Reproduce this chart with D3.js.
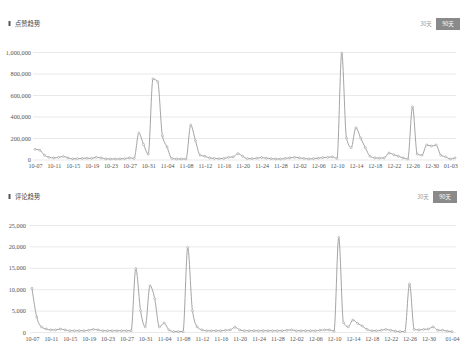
<!DOCTYPE html>
<html>
<head>
<meta charset="utf-8">
<script src="https://cdn.jsdelivr.net/npm/d3@7"></script>
<style>
  html, body { margin: 0; padding: 0; background: #fff; }
  svg { display: block; }
</style>
</head>
<body>
<div id="chart_id"></div>
<script>
// --- --- --- Data --- --- ---

// 90 days, 10-07 .. 01-04
const dates = d3.timeDay.range(new Date(2023, 9, 7), new Date(2024, 0, 5)).map(d3.timeFormat("%m-%d"));

// likes per day (点赞)
const likes = [
  95000, 87000, 40000, 20000, 15000, 20000, 28000, 15000, 6000, 8000,
  10000, 12000, 10000, 20000, 15000, 6000, 5000, 5000, 6000, 8000,
  15000, 10000, 245000, 140000, 50000, 750000, 725000, 220000, 115000, 10000,
  5000, 5000, 5000, 320000, 175000, 40000, 30000, 15000, 10000, 8000,
  10000, 20000, 25000, 55000, 30000, 8000, 8000, 12000, 18000, 12000,
  8000, 5000, 5000, 10000, 15000, 20000, 15000, 10000, 5000, 8000,
  12000, 18000, 20000, 25000, 10000, 990000, 200000, 110000, 295000, 200000,
  110000, 30000, 15000, 12000, 15000, 60000, 45000, 30000, 15000, 5000,
  490000, 50000, 40000, 135000, 125000, 135000, 40000, 25000, 5000, 15000
];

// comments per day (评论)
const comments = [
  10200, 3500, 1200, 700, 500, 500, 700, 500, 300, 300,
  300, 300, 400, 600, 500, 300, 300, 300, 300, 300,
  300, 300, 14800, 5000, 1200, 10800, 7800, 1200, 2100, 500,
  100, 100, 100, 19700, 5000, 1200, 500, 300, 300, 300,
  300, 400, 500, 1100, 500, 300, 300, 300, 300, 300,
  300, 300, 300, 300, 400, 500, 300, 300, 300, 300,
  300, 400, 500, 500, 200, 22100, 2200, 1200, 2800, 2000,
  1400, 600, 300, 300, 400, 600, 400, 200, 100, 100,
  11200, 600, 500, 600, 700, 1200, 400, 400, 200, 100
];

const likeTicks = [0, 200000, 400000, 600000, 800000, 1000000];
const commentTicks = [0, 5000, 10000, 15000, 20000, 25000];

const likeDateTicks = ["10-07","10-11","10-15","10-19","10-23","10-27","10-31","11-04","11-08","11-12","11-16","11-20",
  "11-24","11-28","12-02","12-06","12-10","12-14","12-18","12-22","12-26","12-30","01-03"];
const commentDateTicks = ["10-07","10-11","10-15","10-19","10-23","10-27","10-31","11-04","11-08","11-12","11-16","11-20",
  "11-24","11-28","12-02","12-06","12-10","12-14","12-18","12-22","12-26","12-30","01-04"];

// --- --- --- Chart --- --- ---

const width = 469;
const height = 352;
const numFont = "'Liberation Serif', 'DejaVu Serif', serif";
const cjkFont = "'Noto Sans CJK SC', 'Noto Sans', sans-serif";
const lineColor = "#9a9a9a";

const svg = d3.select("#chart_id")
  .append("svg")
  .attr("width", width)
  .attr("height", height);

function drawPanel(cfg) {
  const g = svg.append("g");

  // title with small marker
  g.append("rect")
    .attr("x", 8.5).attr("y", cfg.titleY - 3)
    .attr("width", 2).attr("height", 5)
    .attr("fill", "#555");
  g.append("text")
    .attr("x", 15).attr("y", cfg.titleY)
    .attr("dy", "0.35em")
    .attr("font-family", cjkFont)
    .attr("font-size", 6.3)
    .attr("fill", "#444")
    .text(cfg.title);

  // 30天 / 90天 switch
  g.append("text")
    .attr("x", cfg.btnX - 10).attr("y", cfg.titleY)
    .attr("dy", "0.35em")
    .attr("text-anchor", "middle")
    .attr("font-family", cjkFont)
    .attr("font-size", 5.5)
    .attr("fill", "#999")
    .text("30天");
  g.append("rect")
    .attr("x", cfg.btnX).attr("y", cfg.titleY - 6)
    .attr("width", 24).attr("height", 12)
    .attr("fill", "#8a8a8a");
  g.append("text")
    .attr("x", cfg.btnX + 12).attr("y", cfg.titleY)
    .attr("dy", "0.35em")
    .attr("text-anchor", "middle")
    .attr("font-family", cjkFont)
    .attr("font-size", 5.5)
    .attr("fill", "#fff")
    .text("90天");

  const x = d3.scalePoint()
    .domain(dates)
    .range([cfg.lineLeft, cfg.lineRight]);

  const y = d3.scaleLinear()
    .domain([0, cfg.ticks[cfg.ticks.length - 1]])
    .range([cfg.bottom, cfg.top]);

  // y axis + grid
  g.append("g")
    .attr("transform", `translate(${cfg.gridLeft},0)`)
    .call(d3.axisLeft(y)
      .tickValues(cfg.ticks)
      .tickFormat(d3.format(","))
      .tickSize(-(cfg.gridRight - cfg.gridLeft))
      .tickPadding(cfg.yPad))
    .call(a => a.select(".domain").remove())
    .call(a => a.selectAll("line").attr("stroke", "#e3e3e3").attr("stroke-width", 0.8))
    .call(a => a.selectAll("text")
      .attr("font-family", numFont)
      .attr("font-size", 6.3)
      .attr("fill", "#555"));

  // x axis labels
  g.append("g")
    .attr("transform", `translate(0,${cfg.bottom})`)
    .call(d3.axisBottom(x)
      .tickValues(cfg.dateTicks)
      .tickSize(0)
      .tickPadding(4.5))
    .call(a => a.select(".domain").remove())
    .call(a => a.selectAll("text")
      .attr("font-family", numFont)
      .attr("font-size", 6)
      .attr("fill", "#555"));

  // line
  const line = d3.line()
    .x((d, i) => x(dates[i]))
    .y(d => y(d))
    .curve(d3.curveMonotoneX);

  g.append("path")
    .datum(cfg.values)
    .attr("fill", "none")
    .attr("stroke", lineColor)
    .attr("stroke-width", 0.9)
    .attr("d", line);

  g.append("g")
    .selectAll("circle")
    .data(cfg.values)
    .join("circle")
    .attr("cx", (d, i) => x(dates[i]))
    .attr("cy", d => y(d))
    .attr("r", 1)
    .attr("fill", "#fff")
    .attr("stroke", lineColor)
    .attr("stroke-width", 0.6);
}

drawPanel({
  title: "点赞趋势",
  titleY: 24,
  btnX: 436,
  values: likes,
  ticks: likeTicks,
  dateTicks: likeDateTicks,
  top: 52,
  bottom: 159.5,
  gridLeft: 33,
  gridRight: 456,
  lineLeft: 35,
  lineRight: 455,
  yPad: 2
});

drawPanel({
  title: "评论趋势",
  titleY: 197,
  btnX: 433,
  values: comments,
  ticks: commentTicks,
  dateTicks: commentDateTicks,
  top: 225,
  bottom: 332,
  gridLeft: 30,
  gridRight: 456,
  lineLeft: 32,
  lineRight: 452,
  yPad: 4
});
</script>
</body>
</html>
